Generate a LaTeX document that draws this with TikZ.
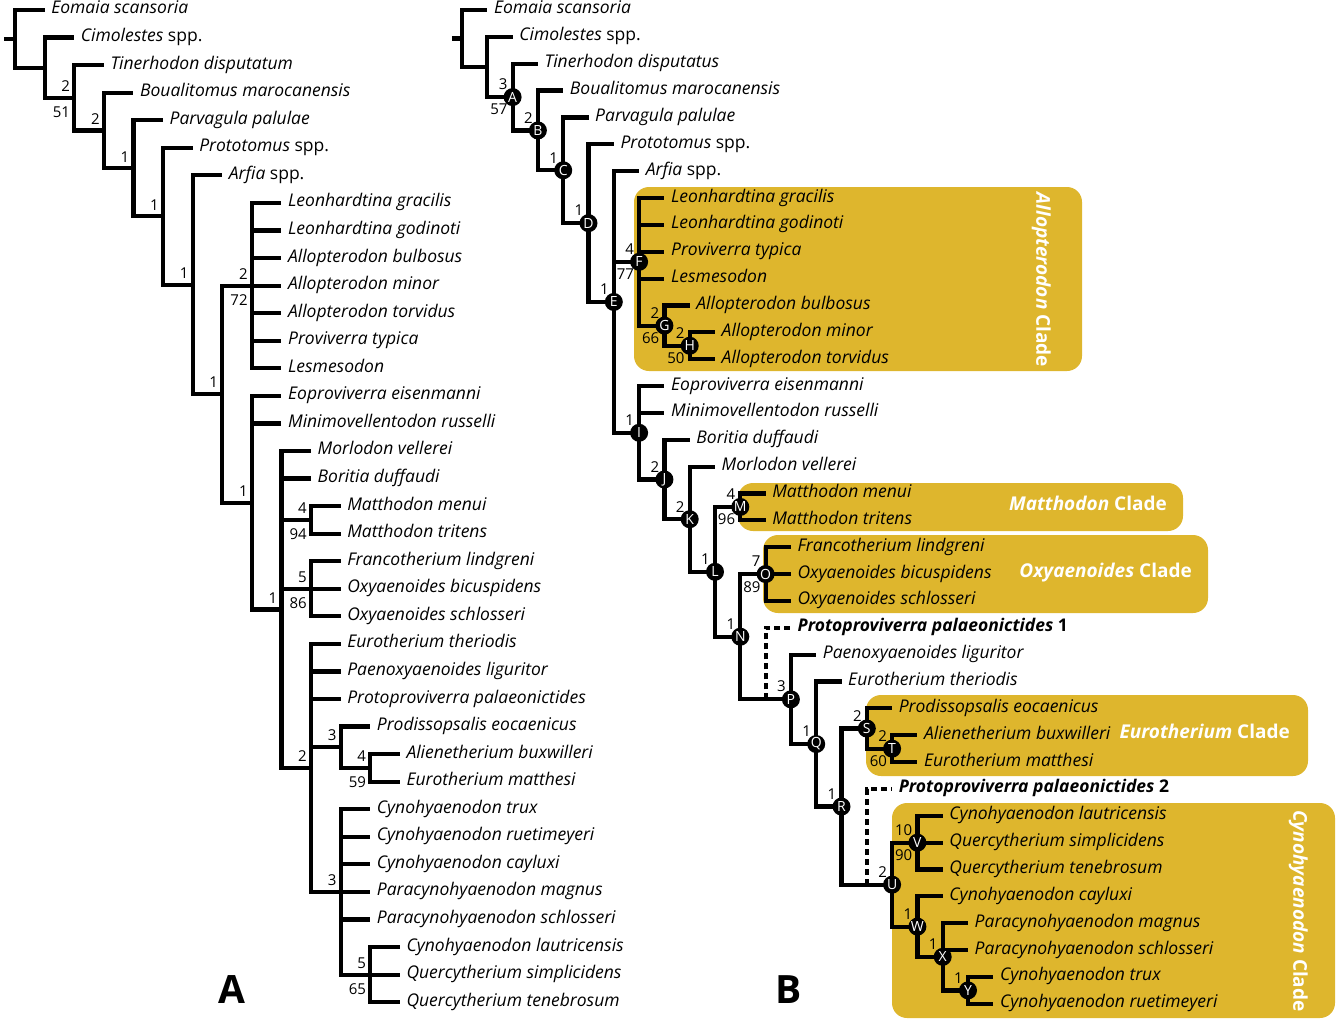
\documentclass[tikz,border=0pt]{standalone}
\usepackage{fontspec}
\setmainfont{Open Sans}
\usepackage{xcolor}
\definecolor{cladegold}{RGB}{222,182,45}
\usetikzlibrary{positioning}

\tikzset{
  branch/.style={line width=4.2pt, line join=miter},
  ghost/.style={branch, dash pattern=on 6pt off 4pt},
  taxon/.style={anchor=west, inner xsep=6.5pt, inner ysep=0pt,
    font=\fontsize{17.5}{20}\selectfont\itshape, text height=0.8em, text depth=0pt},
  fossil/.style={taxon, font=\fontsize{17.5}{20}\selectfont\bfseries},
  numval/.style={inner sep=0pt, font=\fontsize{15}{15}\selectfont},
  upA/.style={numval, anchor=south east, xshift=-4pt, yshift=6pt},
  lowA/.style={numval, anchor=north east, xshift=-4pt, yshift=-9pt},
  upB/.style={numval, anchor=south east, xshift=-5pt, yshift=7pt},
  lowB/.style={numval, anchor=north east, xshift=-5pt, yshift=-7pt},
  letter/.style={circle, fill=black, text=white, minimum size=18pt, inner sep=0pt,
    font=\fontsize{14}{14}\selectfont},
  cladebox/.style={fill=cladegold, rounded corners=15pt},
  cladename/.style={text=white, inner sep=0pt, text height=0.72em, text depth=0pt,
    font=\fontsize{19}{19}\selectfont\bfseries},
  panel/.style={font=\fontsize{39}{39}\selectfont\bfseries}
}

\begin{document}
\begin{tikzpicture}[x=1pt, y=-1pt]
  \useasboundingbox (0,0) rectangle (1338,1022);

  % ---------------- A: strict consensus ----------------
  \begin{scope}[shift={(15,10)}, x=29.6pt, y=-27.56pt]
    % internal nodes
    \coordinate (astub) at (-0.37,1.046);
    \coordinate (ar) at (0,1.046);
    \coordinate (a1) at (1,2.093);
    \coordinate (a2) at (2,3.186);
    \coordinate (a3) at (3,4.371);
    \coordinate (a4) at (4,5.742);
    \coordinate (a5) at (5,7.484);
    \coordinate (a6) at (6,9.969);
    \coordinate (a7) at (7,13.938);
    \coordinate (aallo) at (8,10);
    \coordinate (a8) at (8,17.875);
    \coordinate (a9) at (9,21.75);
    \coordinate (amat) at (10,18.5);
    \coordinate (aoxy) at (10,21);
    \coordinate (a10) at (10,27.5);
    \coordinate (apro) at (11,26.75);
    \coordinate (aeur) at (12,27.5);
    \coordinate (acyn) at (11,32);
    \coordinate (aque) at (12,35);
    % terminal taxa
    \node[taxon] (ta0) at (1,0) {Eomaia scansoria};
    \node[taxon] (ta1) at (2,1) {Cimolestes {\upshape spp.}};
    \node[taxon] (ta2) at (3,2) {Tinerhodon disputatum};
    \node[taxon] (ta3) at (4,3) {Boualitomus marocanensis};
    \node[taxon] (ta4) at (5,4) {Parvagula palulae};
    \node[taxon] (ta5) at (6,5) {Prototomus {\upshape spp.}};
    \node[taxon] (ta6) at (7,6) {Arfia {\upshape spp.}};
    \node[taxon] (ta7) at (9,7) {Leonhardtina gracilis};
    \node[taxon] (ta8) at (9,8) {Leonhardtina godinoti};
    \node[taxon] (ta9) at (9,9) {Allopterodon bulbosus};
    \node[taxon] (ta10) at (9,10) {Allopterodon minor};
    \node[taxon] (ta11) at (9,11) {Allopterodon torvidus};
    \node[taxon] (ta12) at (9,12) {Proviverra typica};
    \node[taxon] (ta13) at (9,13) {Lesmesodon};
    \node[taxon] (ta14) at (9,14) {Eoproviverra eisenmanni};
    \node[taxon] (ta15) at (9,15) {Minimovellentodon russelli};
    \node[taxon] (ta16) at (10,16) {Morlodon vellerei};
    \node[taxon] (ta17) at (10,17) {Boritia duffaudi};
    \node[taxon] (ta18) at (11,18) {Matthodon menui};
    \node[taxon] (ta19) at (11,19) {Matthodon tritens};
    \node[taxon] (ta20) at (11,20) {Francotherium lindgreni};
    \node[taxon] (ta21) at (11,21) {Oxyaenoides bicuspidens};
    \node[taxon] (ta22) at (11,22) {Oxyaenoides schlosseri};
    \node[taxon] (ta23) at (11,23) {Eurotherium theriodis};
    \node[taxon] (ta24) at (11,24) {Paenoxyaenoides liguritor};
    \node[taxon] (ta25) at (11,25) {Protoproviverra palaeonictides};
    \node[taxon] (ta26) at (12,26) {Prodissopsalis eocaenicus};
    \node[taxon] (ta27) at (13,27) {Alienetherium buxwilleri};
    \node[taxon] (ta28) at (13,28) {Eurotherium matthesi};
    \node[taxon] (ta29) at (12,29) {Cynohyaenodon trux};
    \node[taxon] (ta30) at (12,30) {Cynohyaenodon ruetimeyeri};
    \node[taxon] (ta31) at (12,31) {Cynohyaenodon cayluxi};
    \node[taxon] (ta32) at (12,32) {Paracynohyaenodon magnus};
    \node[taxon] (ta33) at (12,33) {Paracynohyaenodon schlosseri};
    \node[taxon] (ta34) at (13,34) {Cynohyaenodon lautricensis};
    \node[taxon] (ta35) at (13,35) {Quercytherium simplicidens};
    \node[taxon] (ta36) at (13,36) {Quercytherium tenebrosum};
    % branches
    \draw[branch] (astub) -- (ar);
    \draw[branch] (ar) |- (ta0) (ar) |- (a1);
    \draw[branch] (a1) |- (ta1) (a1) |- (a2);
    \draw[branch] (a2) |- (ta2) (a2) |- (a3);
    \draw[branch] (a3) |- (ta3) (a3) |- (a4);
    \draw[branch] (a4) |- (ta4) (a4) |- (a5);
    \draw[branch] (a5) |- (ta5) (a5) |- (a6);
    \draw[branch] (a6) |- (ta6) (a6) |- (a7);
    \draw[branch] (a7) |- (aallo) (a7) |- (a8);
    \draw[branch] (aallo) |- (ta7) (aallo) |- (ta8) (aallo) |- (ta9) (aallo) |- (ta10)
      (aallo) |- (ta11) (aallo) |- (ta12) (aallo) |- (ta13);
    \draw[branch] (a8) |- (ta14) (a8) |- (ta15) (a8) |- (a9);
    \draw[branch] (a9) |- (ta16) (a9) |- (ta17) (a9) |- (amat) (a9) |- (aoxy) (a9) |- (a10);
    \draw[branch] (amat) |- (ta18) (amat) |- (ta19);
    \draw[branch] (aoxy) |- (ta20) (aoxy) |- (ta21) (aoxy) |- (ta22);
    \draw[branch] (a10) |- (ta23) (a10) |- (ta24) (a10) |- (ta25) (a10) |- (apro) (a10) |- (acyn);
    \draw[branch] (apro) |- (ta26) (apro) |- (aeur);
    \draw[branch] (aeur) |- (ta27) (aeur) |- (ta28);
    \draw[branch] (acyn) |- (ta29) (acyn) |- (ta30) (acyn) |- (ta31) (acyn) |- (ta32)
      (acyn) |- (ta33) (acyn) |- (aque);
    \draw[branch] (aque) |- (ta34) (aque) |- (ta35) (aque) |- (ta36);
    % Bremer support / bootstrap
    \node[upA] (sa2u) at (a2) {2};
    \node[lowA] (sa2l) at (a2) {51};
    \node[upA] (sa3u) at (a3) {2};
    \node[upA] (sa4u) at (a4) {1};
    \node[upA] (sa5u) at (a5) {1};
    \node[upA] (sa6u) at (a6) {1};
    \node[upA] (sa7u) at (a7) {1};
    \node[upA] (sallou) at (aallo) {2};
    \node[lowA] (sallol) at (aallo) {72};
    \node[upA] (sa8u) at (a8) {1};
    \node[upA] (sa9u) at (a9) {1};
    \node[upA] (smatu) at (amat) {4};
    \node[lowA] (smatl) at (amat) {94};
    \node[upA] (soxyu) at (aoxy) {5};
    \node[lowA] (soxyl) at (aoxy) {86};
    \node[upA] (sa10u) at (a10) {2};
    \node[upA] (sprou) at (apro) {3};
    \node[upA] (seuru) at (aeur) {4};
    \node[lowA] (seurl) at (aeur) {59};
    \node[upA] (scynu) at (acyn) {3};
    \node[upA] (squeu) at (aque) {5};
    \node[lowA] (squel) at (aque) {65};
  \end{scope}

  % ---------------- B: clade boxes ----------------
  \fill[cladebox] (634,187) rectangle (1082,371);
  \fill[cladebox] (738,483) rectangle (1183,531);
  \fill[cladebox] (763,535) rectangle (1208,613);
  \fill[cladebox] (866,695) rectangle (1308,776);
  \fill[cladebox] (892,803) rectangle (1335,1018);
  \node[cladename, rotate=-90] (allo) at (1040,280) {\itshape Allopterodon \upshape Clade};
  \node[cladename, anchor=east] (matt) at (1167,507) {\itshape Matthodon \upshape Clade};
  \node[cladename, anchor=east] (oxya) at (1192,574) {\itshape Oxyaenoides \upshape Clade};
  \node[cladename, anchor=east] (euro) at (1290,735) {\itshape Eurotherium \upshape Clade};
  \node[cladename, rotate=-90] (cyno) at (1297,911) {\itshape Cynohyaenodon \upshape Clade};

  % ---------------- B: Adams consensus ----------------
  \begin{scope}[shift={(462,10)}, x=25.3pt, y=-26.86pt]
    % internal nodes
    \coordinate (bstub) at (-0.4,1.06);
    \coordinate (br) at (0,1.06);
    \coordinate (b1) at (1,2.121);
    \coordinate (nA) at (2,3.242);
    \coordinate (nB) at (3,4.484);
    \coordinate (nC) at (4,5.967);
    \coordinate (nD) at (5,7.935);
    \coordinate (nE) at (6,10.870);
    \coordinate (nF) at (7,9.375);
    \coordinate (nG) at (8,11.75);
    \coordinate (nH) at (9,12.5);
    \coordinate (nI) at (7,15.740);
    \coordinate (nJ) at (8,17.479);
    \coordinate (nK) at (9,18.958);
    \coordinate (nL) at (10,20.916);
    \coordinate (nM) at (11,18.5);
    \coordinate (nN) at (11,23.332);
    \coordinate (nO) at (12,21);
    \coordinate (nP) at (13,25.664);
    \coordinate (nQ) at (14,27.328);
    \coordinate (nR) at (15,29.656);
    \coordinate (nS) at (16,26.75);
    \coordinate (nT) at (17,27.5);
    \coordinate (nU) at (17,32.5625);
    \coordinate (nV) at (18,31);
    \coordinate (nW) at (18,34.125);
    \coordinate (nX) at (19,35.25);
    \coordinate (nY) at (20,36.5);
    % wildcard attachment points
    \coordinate (gpp1) at (12,25.664);
    \coordinate (gpp2) at (16,32.5625);
    % terminal taxa
    \node[taxon] (tb0) at (1,0) {Eomaia scansoria};
    \node[taxon] (tb1) at (2,1) {Cimolestes {\upshape spp.}};
    \node[taxon] (tb2) at (3,2) {Tinerhodon disputatus};
    \node[taxon] (tb3) at (4,3) {Boualitomus marocanensis};
    \node[taxon] (tb4) at (5,4) {Parvagula palulae};
    \node[taxon] (tb5) at (6,5) {Prototomus {\upshape spp.}};
    \node[taxon] (tb6) at (7,6) {Arfia {\upshape spp.}};
    \node[taxon] (tb7) at (8,7) {Leonhardtina gracilis};
    \node[taxon] (tb8) at (8,8) {Leonhardtina godinoti};
    \node[taxon] (tb9) at (8,9) {Proviverra typica};
    \node[taxon] (tb10) at (8,10) {Lesmesodon};
    \node[taxon] (tb11) at (9,11) {Allopterodon bulbosus};
    \node[taxon] (tb12) at (10,12) {Allopterodon minor};
    \node[taxon] (tb13) at (10,13) {Allopterodon torvidus};
    \node[taxon] (tb14) at (8,14) {Eoproviverra eisenmanni};
    \node[taxon] (tb15) at (8,15) {Minimovellentodon russelli};
    \node[taxon] (tb16) at (9,16) {Boritia duffaudi};
    \node[taxon] (tb17) at (10,17) {Morlodon vellerei};
    \node[taxon] (tb18) at (12,18) {Matthodon menui};
    \node[taxon] (tb19) at (12,19) {Matthodon tritens};
    \node[taxon] (tb20) at (13,20) {Francotherium lindgreni};
    \node[taxon] (tb21) at (13,21) {Oxyaenoides bicuspidens};
    \node[taxon] (tb22) at (13,22) {Oxyaenoides schlosseri};
    \node[fossil] (tb23) at (13,23) {\itshape Protoproviverra palaeonictides\upshape\ 1};
    \node[taxon] (tb24) at (14,24) {Paenoxyaenoides liguritor};
    \node[taxon] (tb25) at (15,25) {Eurotherium theriodis};
    \node[taxon] (tb26) at (17,26) {Prodissopsalis eocaenicus};
    \node[taxon] (tb27) at (18,27) {Alienetherium buxwilleri};
    \node[taxon] (tb28) at (18,28) {Eurotherium matthesi};
    \node[fossil] (tb29) at (17,29) {\itshape Protoproviverra palaeonictides\upshape\ 2};
    \node[taxon] (tb30) at (19,30) {Cynohyaenodon lautricensis};
    \node[taxon] (tb31) at (19,31) {Quercytherium simplicidens};
    \node[taxon] (tb32) at (19,32) {Quercytherium tenebrosum};
    \node[taxon] (tb33) at (19,33) {Cynohyaenodon cayluxi};
    \node[taxon] (tb34) at (20,34) {Paracynohyaenodon magnus};
    \node[taxon] (tb35) at (20,35) {Paracynohyaenodon schlosseri};
    \node[taxon] (tb36) at (21,36) {Cynohyaenodon trux};
    \node[taxon] (tb37) at (21,37) {Cynohyaenodon ruetimeyeri};
    % branches
    \draw[branch] (bstub) -- (br);
    \draw[branch] (br) |- (tb0) (br) |- (b1);
    \draw[branch] (b1) |- (tb1) (b1) |- (nA);
    \draw[branch] (nA) |- (tb2) (nA) |- (nB);
    \draw[branch] (nB) |- (tb3) (nB) |- (nC);
    \draw[branch] (nC) |- (tb4) (nC) |- (nD);
    \draw[branch] (nD) |- (tb5) (nD) |- (nE);
    \draw[branch] (nE) |- (tb6) (nE) |- (nF) (nE) |- (nI);
    \draw[branch] (nF) |- (tb7) (nF) |- (tb8) (nF) |- (tb9) (nF) |- (tb10) (nF) |- (nG);
    \draw[branch] (nG) |- (tb11) (nG) |- (nH);
    \draw[branch] (nH) |- (tb12) (nH) |- (tb13);
    \draw[branch] (nI) |- (tb14) (nI) |- (tb15) (nI) |- (nJ);
    \draw[branch] (nJ) |- (tb16) (nJ) |- (nK);
    \draw[branch] (nK) |- (tb17) (nK) |- (nL);
    \draw[branch] (nL) |- (nM) (nL) |- (nN);
    \draw[branch] (nM) |- (tb18) (nM) |- (tb19);
    \draw[branch] (nN) |- (nO) (nN) |- (nP);
    \draw[branch] (nO) |- (tb20) (nO) |- (tb21) (nO) |- (tb22);
    \draw[branch] (nP) |- (tb24) (nP) |- (nQ);
    \draw[branch] (nQ) |- (tb25) (nQ) |- (nR);
    \draw[branch] (nR) |- (nS) (nR) |- (nU);
    \draw[branch] (nS) |- (tb26) (nS) |- (nT);
    \draw[branch] (nT) |- (tb27) (nT) |- (tb28);
    \draw[branch] (nU) |- (nV) (nU) |- (nW);
    \draw[branch] (nV) |- (tb30) (nV) |- (tb31) (nV) |- (tb32);
    \draw[branch] (nW) |- (tb33) (nW) |- (nX);
    \draw[branch] (nX) |- (tb34) (nX) |- (tb35) (nX) |- (nY);
    \draw[branch] (nY) |- (tb36) (nY) |- (tb37);
    \draw[ghost] (gpp1) |- (tb23);
    \draw[ghost] (gpp2) |- (tb29);
    % node letters
    \node[letter] (lA) at (nA) {A};
    \node[letter] (lB) at (nB) {B};
    \node[letter] (lC) at (nC) {C};
    \node[letter] (lD) at (nD) {D};
    \node[letter] (lE) at (nE) {E};
    \node[letter] (lF) at (nF) {F};
    \node[letter] (lG) at (nG) {G};
    \node[letter] (lH) at (nH) {H};
    \node[letter] (lI) at (nI) {I};
    \node[letter] (lJ) at (nJ) {J};
    \node[letter] (lK) at (nK) {K};
    \node[letter] (lL) at (nL) {L};
    \node[letter] (lM) at (nM) {M};
    \node[letter] (lN) at (nN) {N};
    \node[letter] (lO) at (nO) {O};
    \node[letter] (lP) at (nP) {P};
    \node[letter] (lQ) at (nQ) {Q};
    \node[letter] (lR) at (nR) {R};
    \node[letter] (lS) at (nS) {S};
    \node[letter] (lT) at (nT) {T};
    \node[letter] (lU) at (nU) {U};
    \node[letter] (lV) at (nV) {V};
    \node[letter] (lW) at (nW) {W};
    \node[letter] (lX) at (nX) {X};
    \node[letter] (lY) at (nY) {Y};
    % Bremer support / bootstrap
    \node[upB] (sAu) at (nA) {3};
    \node[lowB] (sAl) at (nA) {57};
    \node[upB] (sBu) at (nB) {2};
    \node[upB] (sCu) at (nC) {1};
    \node[upB] (sDu) at (nD) {1};
    \node[upB] (sEu) at (nE) {1};
    \node[upB] (sFu) at (nF) {4};
    \node[lowB] (sFl) at (nF) {77};
    \node[upB] (sGu) at (nG) {2};
    \node[lowB] (sGl) at (nG) {66};
    \node[upB] (sHu) at (nH) {2};
    \node[lowB] (sHl) at (nH) {50};
    \node[upB] (sIu) at (nI) {1};
    \node[upB] (sJu) at (nJ) {2};
    \node[upB] (sKu) at (nK) {2};
    \node[upB] (sLu) at (nL) {1};
    \node[upB] (sMu) at (nM) {4};
    \node[lowB] (sMl) at (nM) {96};
    \node[upB] (sNu) at (nN) {1};
    \node[upB] (sOu) at (nO) {7};
    \node[lowB] (sOl) at (nO) {89};
    \node[upB] (sPu) at (nP) {3};
    \node[upB] (sQu) at (nQ) {1};
    \node[upB] (sRu) at (nR) {1};
    \node[upB] (sSu) at (nS) {2};
    \node[upB] (sTu) at (nT) {2};
    \node[lowB] (sTl) at (nT) {60};
    \node[upB] (sUu) at (nU) {2};
    \node[upB] (sVu) at (nV) {10};
    \node[lowB] (sVl) at (nV) {90};
    \node[upB] (sWu) at (nW) {1};
    \node[upB] (sXu) at (nX) {1};
    \node[upB] (sYu) at (nY) {1};
  \end{scope}

  % panel letters
  \node[panel] (pa) at (232,990) {A};
  \node[panel] (pb) at (789,990) {B};
\end{tikzpicture}
\end{document}
